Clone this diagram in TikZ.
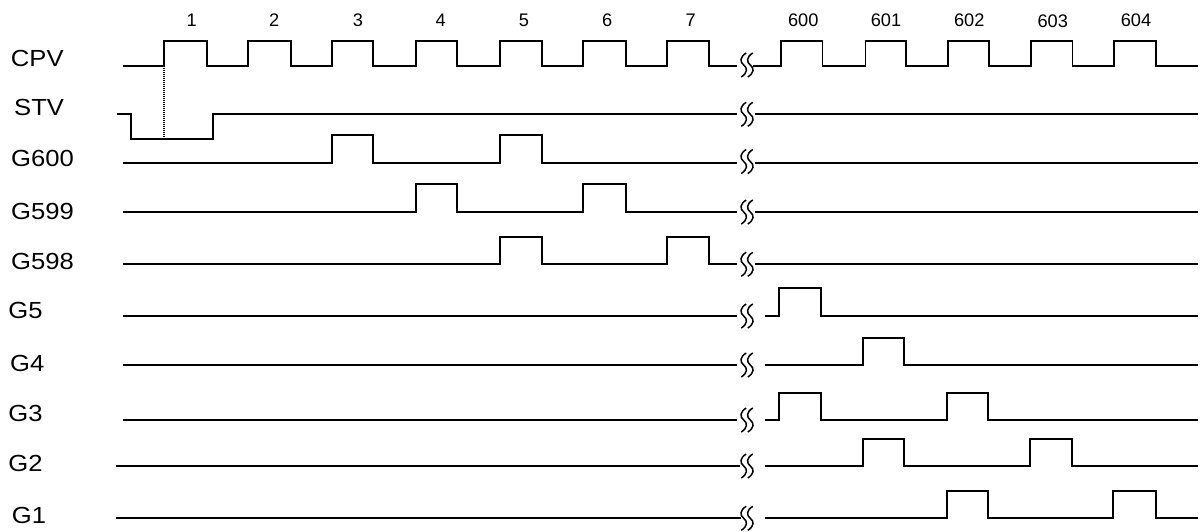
\documentclass[tikz,border=0pt]{standalone}
\usepackage{fontspec}
\setmainfont{Liberation Sans}
\newfontfamily\siglabfont{Liberation Sans}[FakeStretch=1.1]
\newcommand{\mywave}[5]{%
  \draw[sig] (#1,#3) foreach \r/\f in {#5} { -- (\r,#3) -- (\r,#4) -- (\f,#4) -- (\f,#3) } -- (#2,#3);}
\begin{document}
\begin{tikzpicture}[x=1pt,y=-1pt,
  sig/.style={line width=1.8pt, line join=miter},
  siglab/.style={anchor=base west, inner sep=0pt, font=\siglabfont\fontsize{23.3}{28}\selectfont},
  cyc/.style={anchor=base, inner sep=0pt, font=\fontsize{18.2}{22}\selectfont},
  brk/.pic={
    \draw[line width=1.5pt] (-0.8,-12) .. controls (-7.3,-8) and (-7.3,-3) .. (-3.3,0)
      .. controls (0.7,3) and (0.7,8) .. (-5.8,12);
    \draw[line width=1.5pt] (5.8,-12) .. controls (-0.7,-8) and (-0.7,-3) .. (3.3,0)
      .. controls (7.3,3) and (7.3,8) .. (0.8,12);
  }]
\useasboundingbox (0,0) rectangle (1202,531);

% cycle numbers
\node[cyc] (c1) at (191.7,26) {1};
\node[cyc] (c2) at (274.3,26) {2};
\node[cyc] (c3) at (358,26) {3};
\node[cyc] (c4) at (440.7,26) {4};
\node[cyc] (c5) at (524,26) {5};
\node[cyc] (c6) at (607.3,26) {6};
\node[cyc] (c7) at (690.7,26) {7};
\node[cyc] (c600) at (803.3,26) {600};
\node[cyc] (c601) at (886,26) {601};
\node[cyc] (c602) at (969.3,26) {602};
\node[cyc] (c603) at (1052.7,27.3) {603};
\node[cyc] (c604) at (1136,26) {604};

% signal labels
\node[siglab] (lCPV) at (10.7,66) {CPV};
\node[siglab] (lSTV) at (14,115) {STV};
\node[siglab] (lG600) at (11,166.5) {G600};
\node[siglab] (lG599) at (11,219.5) {G599};
\node[siglab] (lG598) at (11,269.5) {G598};
\node[siglab] (lG5) at (8.3,318.3) {G5};
\node[siglab] (lG4) at (10,371.5) {G4};
\node[siglab] (lG3) at (8.3,421.5) {G3};
\node[siglab] (lG2) at (8.3,471.5) {G2};
\node[siglab] (lG1) at (11.7,523.3) {G1};

% CPV
\mywave{122.7}{736.7}{66}{41}{164/207,248/291,332/373,416/457,500/542,583/626,667/709}
\mywave{753.3}{1198.3}{66}{41}{781/822.5,865.5/906,948/989,1031/1072.5,1114/1156}
\pic at (747,65) {brk};

% STV
\draw[sig] (116.7,114.3) -- (131,114.3) -- (131,139.3) -- (213.3,139.3) -- (213.3,114.3) -- (736.7,114.3);
\draw[sig] (755,114.3) -- (1198.3,114.3);
\pic at (747,114.3) {brk};
\draw[line width=1.2pt, dash pattern=on 1pt off 1pt] (164,66) -- (164,139.3);

% G600
\mywave{122.7}{736.7}{163.3}{135}{332/373,500/542}
\draw[sig] (755,163.3) -- (1198.3,163.3);
\pic at (747,161.5) {brk};

% G599
\mywave{122.7}{736.7}{212}{184}{416/457,583/626}
\draw[sig] (755,212) -- (1198.3,212);
\pic at (747,212) {brk};

% G598
\mywave{122.7}{736.7}{264.3}{236.7}{500/542,667/709}
\draw[sig] (755,264.3) -- (1198.3,264.3);
\pic at (747,264.3) {brk};

% G5
\draw[sig] (122.7,316) -- (736.7,316);
\mywave{765}{1198.3}{316}{288.3}{779/821}
\pic at (747,316) {brk};

% G4
\draw[sig] (122.7,365) -- (736.7,365);
\mywave{765}{1198.3}{365}{337.7}{862.7/904}
\pic at (747,365) {brk};

% G3
\draw[sig] (122.7,420) -- (736.7,420);
\mywave{765}{1198.3}{420}{392.7}{779/821,946.7/988.3}
\pic at (747,420) {brk};

% G2
\draw[sig] (116,466) -- (740,466);
\mywave{765}{1198.3}{466}{439}{862.7/904.3,1030/1072.3}
\pic at (747,466) {brk};

% G1
\draw[sig] (116,518.3) -- (741,518.3);
\mywave{765}{1198.3}{518.3}{491}{946.7/988.3,1113.3/1156}
\pic at (747,518.3) {brk};
\end{tikzpicture}
\end{document}
